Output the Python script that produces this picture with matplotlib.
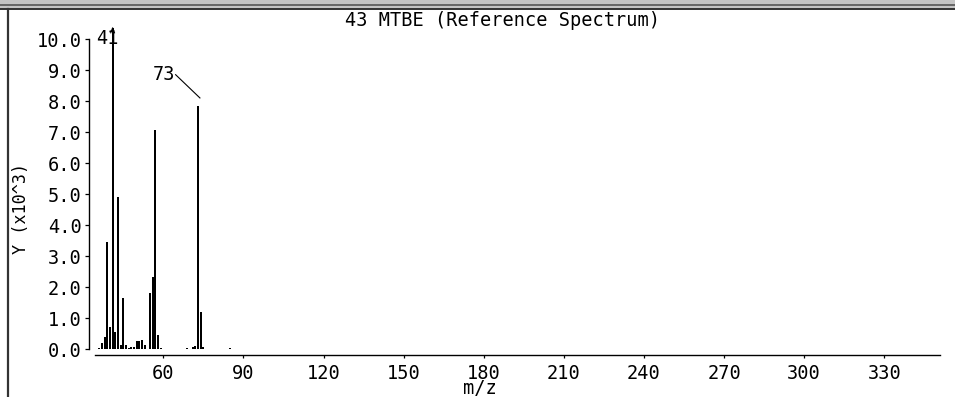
import numpy as np
import matplotlib
matplotlib.use('Agg')
import matplotlib.pyplot as plt
from matplotlib.lines import Line2D
from matplotlib.patches import Rectangle

# spectrum peaks, intensity in thousands
mz = [36, 37, 38, 39, 40, 41, 42, 43, 44, 45, 46, 47, 48, 49, 50, 51, 52, 53,
      55, 56, 57, 58, 59, 69, 71, 72, 73, 74, 75, 85]
intensity = [0.05, 0.21, 0.40, 3.45, 0.71, 10.36, 0.57, 4.92, 0.14, 1.64, 0.14, 0.04,
             0.06, 0.06, 0.27, 0.28, 0.31, 0.14, 1.83, 2.32, 7.07, 0.46, 0.05, 0.04,
             0.08, 0.10, 7.83, 1.21, 0.07, 0.04]
x_ticks = [60, 90, 120, 150, 180, 210, 240, 270, 300, 330]
y_ticks = [0, 1, 2, 3, 4, 5, 6, 7, 8, 9, 10]
title = '43 MTBE (Reference Spectrum)'

W, H = 955, 397
FONT = 'DejaVu Sans Mono'
FS = 13.4


def fx(px):
    return px / W


def fy(py):
    return 1 - py / H


fig = plt.figure(figsize=(W / 100, H / 100), dpi=100)

# frame remains of the stacked panel layout
fig.patches.append(Rectangle((0, fy(9)), 1, 9 / H, transform=fig.transFigure,
                             facecolor='#c4c4c4', edgecolor='none'))
fig.lines.append(Line2D([0, 1], [fy(4.5), fy(4.5)], transform=fig.transFigure,
                        color='#555555', lw=1.2))
fig.lines.append(Line2D([0, 1], [fy(8.5), fy(8.5)], transform=fig.transFigure,
                        color='#333333', lw=1.4))
fig.lines.append(Line2D([fx(8), fx(8)], [0, fy(8.5)], transform=fig.transFigure,
                        color='#333333', lw=1.6))
# bottom sliver of the panel above
fig.text(fx(480), fy(1), 'm/z', ha='center', va='bottom', fontsize=FS, family=FONT)

ax = fig.add_axes([fx(95), fy(349.3), 845 / W, 310.3 / H])
ax.set_xlim(34.4, 350.9)
ax.set_ylim(0, 10)
ax.patch.set_alpha(0)

ax.bar(mz, intensity, width=0.75, color='black', linewidth=0, clip_on=False)

for side in ['top', 'right']:
    ax.spines[side].set_visible(False)
for side in ['left', 'bottom']:
    ax.spines[side].set_position(('outward', 4.1))
    ax.spines[side].set_linewidth(1.0)

ax.set_xticks(x_ticks)
ax.set_xticklabels([str(t) for t in x_ticks])
ax.set_yticks(y_ticks)
ax.set_yticklabels([f'{t:.1f}' for t in y_ticks])
ax.tick_params(axis='x', direction='out', length=2.5, width=0.9, pad=4, labelsize=FS)
ax.tick_params(axis='y', direction='out', length=2.9, width=0.9, pad=2.6, labelsize=FS)
for lab in ax.get_xticklabels() + ax.get_yticklabels():
    lab.set_family(FONT)

# peak annotations
ax.text(39.0, 10.03, '41', ha='center', va='center', fontsize=FS, family=FONT, clip_on=False)
ax.plot([40.3, 41.0, 41.7], [10.2, 10.36, 10.2], color='black', lw=0.8, clip_on=False)
ax.text(64.6, 8.85, '73', ha='right', va='center', fontsize=FS, family=FONT)
ax.plot([64.6, 73.7], [8.85, 8.1], color='black', lw=0.8)

fig.text(fx(502), fy(20.5), title, ha='center', va='center', fontsize=FS, family=FONT)
fig.text(fx(21), fy(208), 'Y (x10^3)', ha='center', va='center', rotation=90,
         fontsize=FS * 0.9, family=FONT)
fig.text(fx(480), fy(388.5), 'm/z', ha='center', va='center', fontsize=FS, family=FONT)

fig.savefig('out.png', dpi=100)
